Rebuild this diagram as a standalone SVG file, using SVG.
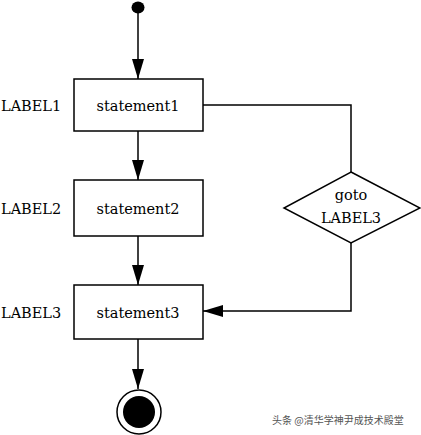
<svg xmlns="http://www.w3.org/2000/svg" width="421" height="435" viewBox="0 0 421 435">
<style>
.box{fill:#fff;stroke:#000;stroke-width:1.5}
.ln{fill:none;stroke:#000;stroke-width:1.5}
.t{font-family:'DejaVu Serif',serif;font-size:14.5px;fill:#000}
.wm{font-family:'Noto Sans CJK SC',sans-serif;font-size:10px;fill:#555}
</style>
<defs>
<marker id="ah" markerUnits="userSpaceOnUse" markerWidth="20" markerHeight="12" refX="20" refY="6" orient="auto">
<path d="M0,0 L20,6 L0,12 Z" fill="#000"/>
</marker>
</defs>
<rect width="421" height="435" fill="#fff"/>
<g id="connectors">
<line class="ln" x1="138" y1="13" x2="138" y2="79" marker-end="url(#ah)"/>
<line class="ln" x1="138" y1="131" x2="138" y2="180" marker-end="url(#ah)"/>
<line class="ln" x1="138" y1="236" x2="138" y2="285" marker-end="url(#ah)"/>
<line class="ln" x1="138" y1="339" x2="138" y2="389" marker-end="url(#ah)"/>
<polyline class="ln" points="203,105 351,105 351,172"/>
<polyline class="ln" points="351,243 351,311 203,311" marker-end="url(#ah)"/>
</g>
<g id="start">
<ellipse cx="138" cy="7.5" rx="6.5" ry="6" fill="#000"/>
</g>
<g id="statement1">
<rect class="box" x="74" y="79" width="129" height="52"/>
<text class="t" x="138" y="111" text-anchor="middle">statement1</text>
<text class="t" x="1" y="111">LABEL1</text>
</g>
<g id="statement2">
<rect class="box" x="74" y="180" width="129" height="56"/>
<text class="t" x="138" y="214" text-anchor="middle">statement2</text>
<text class="t" x="1" y="214">LABEL2</text>
</g>
<g id="statement3">
<rect class="box" x="74" y="285" width="129" height="54"/>
<text class="t" x="138" y="318" text-anchor="middle">statement3</text>
<text class="t" x="1" y="318">LABEL3</text>
</g>
<g id="goto">
<polygon class="box" points="351,172 420,208 351,243 284,208"/>
<text class="t" x="351" y="200" text-anchor="middle">goto</text>
<text class="t" x="351" y="223" text-anchor="middle">LABEL3</text>
</g>
<g id="end">
<circle cx="139" cy="412" r="22" fill="#fff" stroke="#000" stroke-width="1.5"/>
<circle cx="139" cy="412" r="16" fill="#000"/>
</g>
<text class="wm" x="272" y="424">头条 @清华学神尹成技术殿堂</text>
</svg>
